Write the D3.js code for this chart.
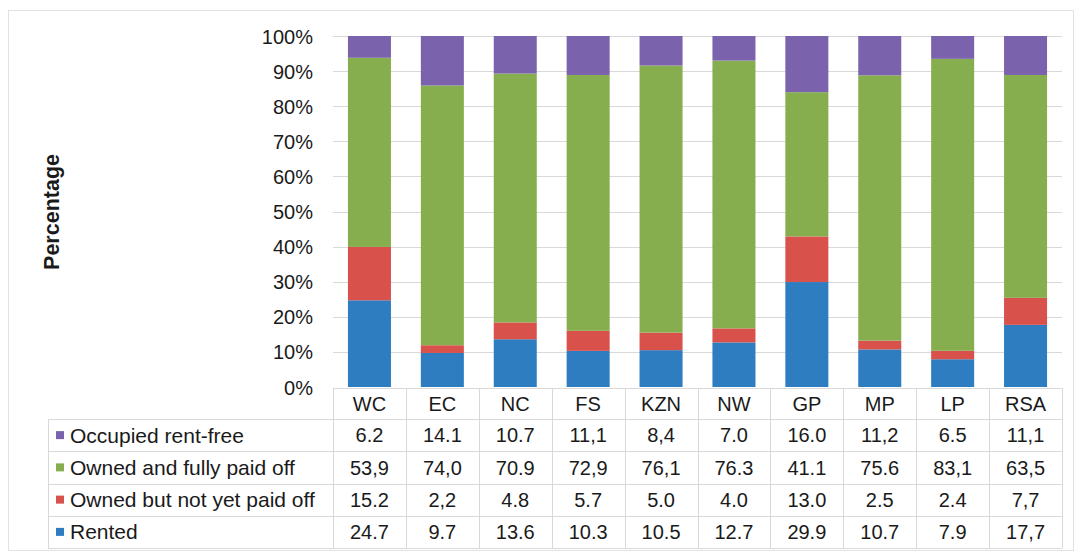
<!DOCTYPE html>
<html>
<head>
<meta charset="utf-8">
<script src="https://cdn.jsdelivr.net/npm/d3@7"></script>
<style>
  html, body { margin: 0; padding: 0; background: #fff; }
  svg { display: block; font-family: "Liberation Sans", Arial, sans-serif; }
</style>
</head>
<body>
<svg id="chart" width="1080" height="554"></svg>
<script>
// Provinces (columns) and tenure categories
const categories = ["WC", "EC", "NC", "FS", "KZN", "NW", "GP", "MP", "LP", "RSA"];

// Values as printed in the data table (top row to bottom row)
const occupiedRentFree   = ["6.2", "14.1", "10.7", "11,1", "8,4", "7.0", "16.0", "11,2", "6.5", "11,1"];
const ownedFullyPaid     = ["53,9", "74,0", "70.9", "72,9", "76,1", "76.3", "41.1", "75.6", "83,1", "63,5"];
const ownedNotPaid       = ["15.2", "2,2", "4.8", "5.7", "5.0", "4.0", "13.0", "2.5", "2.4", "7,7"];
const rented             = ["24.7", "9.7", "13.6", "10.3", "10.5", "12.7", "29.9", "10.7", "7.9", "17,7"];

const seriesNames  = ["Occupied rent-free", "Owned and fully paid off", "Owned but not yet paid off", "Rented"];
const seriesLabels = [occupiedRentFree, ownedFullyPaid, ownedNotPaid, rented];
const seriesColors = ["#7a62ad", "#86ae4f", "#d8514b", "#2d7dc0"];
const yTicks = [0, 0.1, 0.2, 0.3, 0.4, 0.5, 0.6, 0.7, 0.8, 0.9, 1.0];

const num = s => +s.replace(",", ".");

// Build rows for stacking: bottom of the stack is "Rented"
const stackKeys = seriesNames.slice().reverse();
const rows = categories.map((c, i) => {
  const r = { cat: c };
  seriesNames.forEach((n, k) => { r[n] = num(seriesLabels[k][i]); });
  return r;
});
const colorOf = d3.scaleOrdinal().domain(seriesNames).range(seriesColors);

const svg = d3.select("#chart");
const plot = { left: 333, right: 1062, top: 36, bottom: 387 };
const tableTop = 388, headerH = 31, rowH = 32.25, legendLeft = 48;

const x = d3.scaleBand().domain(categories).range([plot.left, plot.right])
  .paddingInner(0.41).paddingOuter(0.205);
const col = d3.scaleBand().domain(categories).range([plot.left, plot.right]);
const y = d3.scaleLinear().domain([0, 1]).range([plot.bottom, plot.top]);

const gridColor = "#d9d9d9";
const textColor = "#1a1a1a";

// Outer chart frame
svg.append("rect").attr("x", 8.5).attr("y", 10.5).attr("width", 1065).attr("height", 540)
  .attr("fill", "#fff").attr("stroke", "#e2e2e2");

// Horizontal gridlines
svg.append("g").selectAll("line").data(yTicks.slice(1)).join("line")
  .attr("x1", plot.left).attr("x2", plot.right)
  .attr("y1", d => Math.round(y(d)) + 0.5).attr("y2", d => Math.round(y(d)) + 0.5)
  .attr("stroke", gridColor);

// Y axis tick labels
const yAxis = d3.axisLeft(y).tickValues(yTicks).tickFormat(d3.format(".0%")).tickSize(0).tickPadding(0);
const yg = svg.append("g").attr("transform", `translate(313,0)`).call(yAxis);
yg.select(".domain").remove();
yg.selectAll("text").attr("font-size", 20).attr("fill", textColor)
  .attr("font-family", "'Liberation Sans', Arial, sans-serif")
  .attr("dy", "0.35em");

// Axis title
svg.append("text")
  .attr("transform", "translate(59,212) rotate(-90)")
  .attr("text-anchor", "middle")
  .attr("font-size", 21.5).attr("font-weight", "bold").attr("fill", textColor)
  .text("Percentage");

// 100% stacked bars
const stacked = d3.stack().keys(stackKeys).offset(d3.stackOffsetExpand)(rows);
svg.append("g").selectAll("g").data(stacked).join("g")
  .attr("fill", d => colorOf(d.key))
  .selectAll("rect").data(d => d).join("rect")
  .attr("x", d => x(d.data.cat))
  .attr("width", x.bandwidth())
  .attr("y", d => y(d[1]))
  .attr("height", d => y(d[0]) - y(d[1]));

// Data table
const table = svg.append("g");
const tableBottom = tableTop + headerH + rowH * seriesNames.length;
// header top line
table.append("line").attr("x1", plot.left).attr("x2", plot.right)
  .attr("y1", tableTop + 0.5).attr("y2", tableTop + 0.5).attr("stroke", gridColor);
// row separators
d3.range(seriesNames.length + 1).forEach(i => {
  const yy = Math.round(tableTop + headerH + rowH * i) + 0.5;
  table.append("line").attr("x1", legendLeft).attr("x2", plot.right)
    .attr("y1", yy).attr("y2", yy).attr("stroke", gridColor);
});
// column separators
const colEdges = categories.map(c => col(c)).concat([plot.right]);
table.selectAll("line.col").data(colEdges).join("line").attr("class", "col")
  .attr("x1", d => Math.round(d) + 0.5).attr("x2", d => Math.round(d) + 0.5)
  .attr("y1", tableTop).attr("y2", tableBottom).attr("stroke", gridColor);
table.append("line").attr("x1", legendLeft + 0.5).attr("x2", legendLeft + 0.5)
  .attr("y1", tableTop + headerH).attr("y2", tableBottom).attr("stroke", gridColor);

// header labels
table.selectAll("text.cat").data(categories).join("text").attr("class", "cat")
  .attr("x", d => col(d) + col.bandwidth() / 2)
  .attr("y", tableTop + headerH / 2).attr("dy", "0.36em")
  .attr("text-anchor", "middle").attr("font-size", 20).attr("fill", textColor)
  .text(d => d);

// rows
seriesNames.forEach((name, k) => {
  const cy = tableTop + headerH + rowH * k + rowH / 2;
  table.append("rect").attr("x", 56).attr("y", cy - 4).attr("width", 8).attr("height", 8)
    .attr("fill", seriesColors[k]);
  table.append("text").attr("x", 70).attr("y", cy).attr("dy", "0.36em")
    .attr("font-size", 21).attr("fill", textColor).text(name);
  table.selectAll(null).data(seriesLabels[k]).join("text")
    .attr("x", (d, i) => col(categories[i]) + col.bandwidth() / 2)
    .attr("y", cy).attr("dy", "0.36em")
    .attr("text-anchor", "middle").attr("font-size", 20).attr("fill", textColor)
    .text(d => d);
});
</script>
</body>
</html>
